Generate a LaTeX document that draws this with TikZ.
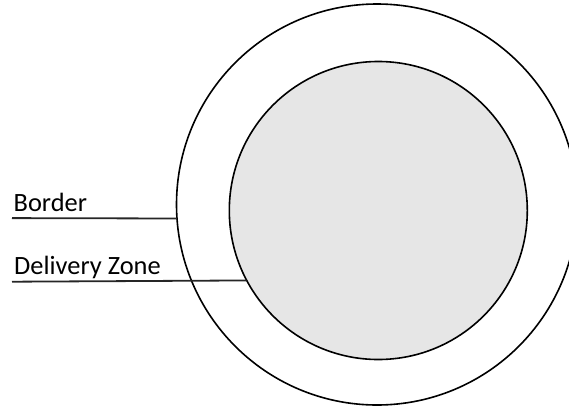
\documentclass[tikz,border=0pt]{standalone}
\usepackage{fontspec}
\setmainfont{Carlito}
\definecolor{zonegray}{HTML}{E6E6E6}
\begin{document}
\begin{tikzpicture}[x=1pt,y=-1pt,
  ring/.style={circle, draw=black, line width=1.6pt, inner sep=0pt, outer sep=0pt},
  lbl/.style={anchor=base west, inner sep=0pt, font=\fontsize{26.4}{31}\selectfont},
  leader/.style={line width=1.8pt, draw=black!85}]
\useasboundingbox (0,0) rectangle (569,407);
\clip (0,0) rectangle (569,407);
\node[ring, minimum size=401pt] (outer) at (377,204.5) {};
\node[ring, fill=zonegray, minimum size=298pt] (inner) at (378.3,210.5) {};
\node[lbl] (border) at (13.5,211.7) {Border};
\node[lbl] (zone) at (14,274.5) {Delivery Zone};
\coordinate (bstart) at (12,218.1);
\coordinate (zstart) at (12,281.7);
\draw[leader] (bstart) -- (outer.184);
\draw[leader] (zstart) -- (inner.208.5);
\end{tikzpicture}
\end{document}
